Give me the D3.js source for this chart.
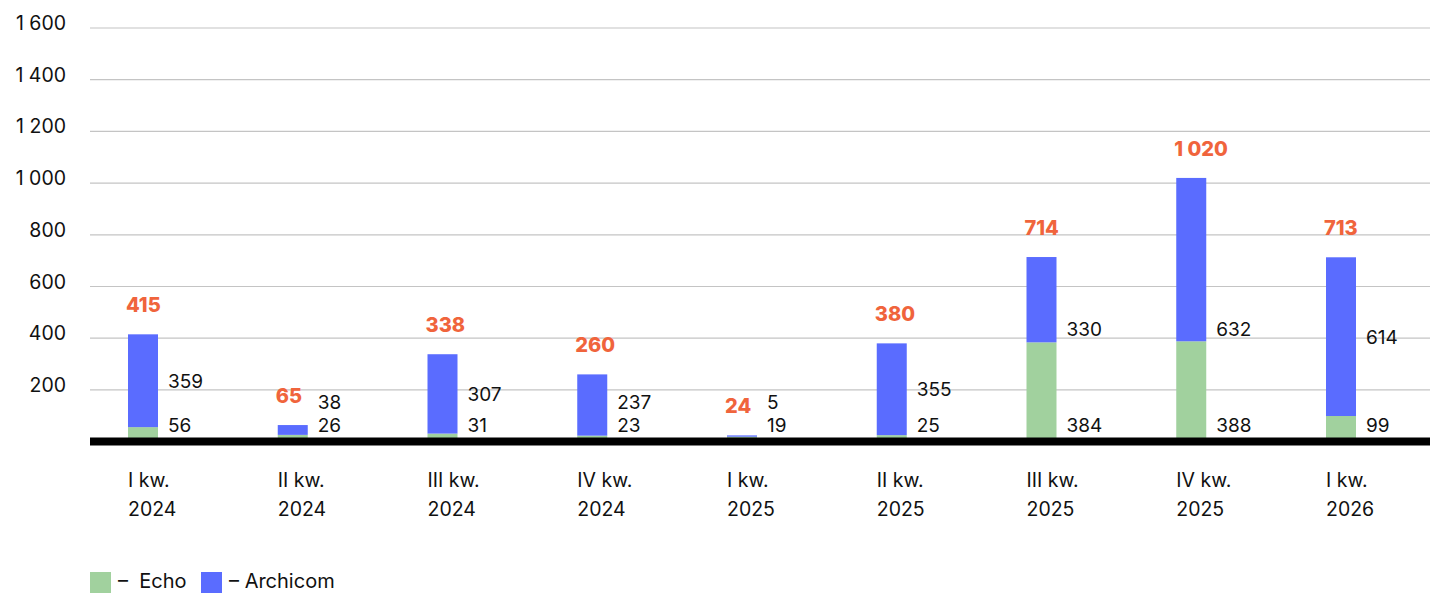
<!DOCTYPE html>
<html>
<head>
<meta charset="utf-8">
<script src="https://cdn.jsdelivr.net/npm/d3@7"></script>
<style>
  html, body { margin: 0; padding: 0; background: #fff; }
  svg { display: block; font-family: Inter, "Noto Sans", sans-serif; }
</style>
</head>
<body>
<svg id="chart" width="1430" height="593"></svg>
<script>
// Quarterly figures: Echo (bottom) and Archicom (top) stacked per quarter
const quarters = ["I kw. 2024", "II kw. 2024", "III kw. 2024", "IV kw. 2024",
                  "I kw. 2025", "II kw. 2025", "III kw. 2025", "IV kw. 2025", "I kw. 2026"];
const echo     = [56, 26, 31, 23, 19, 25, 384, 388, 99];
const archicom = [359, 38, 307, 237, 5, 355, 330, 632, 614];
const totals   = [415, 65, 338, 260, 24, 380, 714, 1020, 713];
const yTicks   = [200, 400, 600, 800, 1000, 1200, 1400, 1600];

const COLORS = { echo: "#a1d19e", archicom: "#5a6cff", total: "#f0643c", text: "#111", grid: "#c4c4c4" };
// thousands separated by a space (Polish style)
const fmt = v => d3.format(",")(v).replace(/,/g, " ");

const svg = d3.select("#chart");
const W = 1430;
const x0 = 90;
const barW = 30;

const y = d3.scaleLinear().domain([0, 1600]).range([441.6, 28]);
const x = d3.scalePoint().domain(quarters).range([128, 1326]);

// grid
svg.append("g").selectAll("line").data(yTicks).join("line")
  .attr("x1", x0).attr("x2", W)
  .attr("y1", d => y(d)).attr("y2", d => y(d))
  .attr("stroke", COLORS.grid).attr("stroke-width", 1.2);

// y axis labels
svg.append("g").selectAll("text").data(yTicks).join("text")
  .attr("x", 66).attr("y", d => y(d) + 2)
  .attr("text-anchor", "end")
  .attr("font-size", 19.5).attr("fill", COLORS.text)
  .attr("xml:space", "preserve")
  .text(d => fmt(d));

// stacked bars
const rows = quarters.map((q, i) => ({ q, echo: echo[i], archicom: archicom[i], total: totals[i] }));
const series = d3.stack().keys(["echo", "archicom"])(rows);

svg.append("g").selectAll("g").data(series).join("g")
  .attr("fill", s => COLORS[s.key])
  .selectAll("rect").data(s => s).join("rect")
  .attr("x", d => x(d.data.q))
  .attr("width", barW)
  .attr("y", d => y(d[1]))
  .attr("height", d => y(d[0]) - y(d[1]));

// baseline
svg.append("line")
  .attr("x1", x0).attr("x2", W)
  .attr("y1", y(0)).attr("y2", y(0))
  .attr("stroke", "#000").attr("stroke-width", 8);

// segment value labels
const lbl = svg.append("g").attr("font-size", 19).attr("fill", COLORS.text);
rows.forEach(r => {
  const lx = x(r.q) + barW + 10;
  // Echo label sits just above the baseline
  lbl.append("text").attr("x", lx).attr("y", y(0) - 10).text(fmt(r.echo));
  // Archicom label near the middle of its segment, kept clear of the Echo label
  const mid = (y(r.echo) + y(r.total)) / 2;
  const cy = Math.min(Math.max(mid, y(435)), y(155));
  lbl.append("text").attr("x", lx).attr("y", cy + 7).text(fmt(r.archicom));
});

// totals
svg.append("g").selectAll("text").data(rows).join("text")
  .attr("x", d => x(d.q) - 2)
  .attr("y", d => y(d.total) - 22)
  .attr("font-size", 20).attr("font-weight", 800)
  .attr("fill", COLORS.total)
  .attr("xml:space", "preserve")
  .text(d => fmt(d.total));

// category labels (two lines)
const cat = svg.append("g").attr("font-size", 19.5).attr("fill", COLORS.text);
quarters.forEach(q => {
  const parts = q.split(" ");
  const t = cat.append("text").attr("x", x(q)).attr("y", 487);
  t.append("tspan").attr("x", x(q)).text(parts[0] + " " + parts[1]);
  t.append("tspan").attr("x", x(q)).attr("dy", 29).text(parts[2]);
});

// legend
const legend = [{ key: "echo", label: "Echo", x: 90, tx: 118 }, { key: "archicom", label: "Archicom", x: 201, tx: 229 }];
const lg = svg.append("g");
legend.forEach(l => {
  lg.append("rect").attr("x", l.x).attr("y", 572).attr("width", 21).attr("height", 21).attr("fill", COLORS[l.key]);
  lg.append("text").attr("x", l.tx).attr("y", 588).attr("font-size", 20).attr("fill", COLORS.text)
    .attr("xml:space", "preserve")
    .text(l.key === "echo" ? "\u2013  " + l.label : "\u2013 " + l.label);
});
</script>
</body>
</html>
